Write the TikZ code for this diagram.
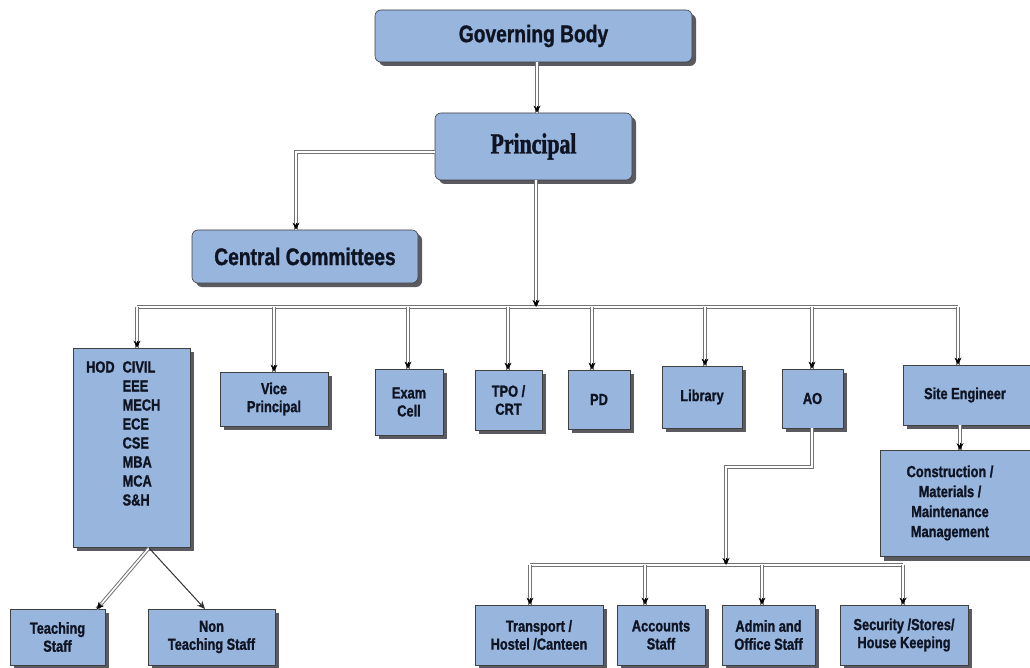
\documentclass[tikz,border=0pt]{standalone}
\usepackage{fontspec}
\newfontfamily\boxfont[FakeStretch=0.8, BoldFeatures={FakeBold=1.2}]{Liberation Sans}
\newfontfamily\serfont[FakeStretch=0.75, BoldFeatures={FakeBold=1.5}]{Liberation Serif}
\usetikzlibrary{arrows.meta,shadows}
\definecolor{boxblue}{RGB}{152,181,222}
\definecolor{shadowgray}{RGB}{90,90,96}
\definecolor{inktext}{RGB}{15,20,35}
\tikzset{
  box/.style={draw=black!75, line width=0.6pt, fill=boxblue, inner sep=2pt, text=inktext,
    general shadow={fill=shadowgray, shadow xshift=4pt, shadow yshift=-4pt},
    align=center, font=\boxfont\bfseries\fontsize{16}{18}\selectfont},
  topbox/.style={box, rounded corners=6pt, font=\boxfont\bfseries\fontsize{24}{26}\selectfont},
  conn/.style={draw=black!55, line width=1pt, double=white, double distance=1.6pt},
  tipst/.style={draw=black, line width=0.5pt, -{Stealth[length=7pt,width=7pt]}},
  single/.style={draw=black!80, line width=1pt, -{Stealth[length=8pt,width=7pt]}}
}
\begin{document}
\begin{tikzpicture}[x=1pt,y=-1pt]
\useasboundingbox (0,0) rectangle (1030,668);
% top level
\node[topbox, minimum width=317pt, minimum height=52pt] (gov) at (533.5,36) {Governing Body};
\node[topbox, minimum width=197pt, minimum height=67pt, font=\serfont\bfseries\fontsize{29}{31}\selectfont] (prin) at (533.5,146.5) {Principal};
\node[topbox, minimum width=226pt, minimum height=53pt] (cc) at (305,256.5) {Central Committees};
% second row
\node[box, minimum width=117pt, minimum height=199pt] (hod) at (131.5,447.5) {};
\node[anchor=north west, inner sep=0pt, align=left, text=inktext, font=\boxfont\bfseries\fontsize{16}{19}\selectfont] (hodtext) at (86,359)
  {\begin{tabular}{@{}l@{\hspace{8pt}}l@{}}HOD & CIVIL\\ & EEE\\ & MECH\\ & ECE\\ & CSE\\ & MBA\\ & MCA\\ & S\&H\end{tabular}};
\node[box, minimum width=108pt, minimum height=54pt] (vp) at (274,399) {Vice\\Principal};
\node[box, minimum width=68pt, minimum height=66pt] (exam) at (409,402) {Exam\\Cell};
\node[box, minimum width=67pt, minimum height=60pt] (tpo) at (508.5,400) {TPO /\\CRT};
\node[box, minimum width=62pt, minimum height=59pt] (pd) at (599,399.5) {PD};
\node[box, minimum width=80pt, minimum height=62pt] (lib) at (702,397) {Library};
\node[box, minimum width=61pt, minimum height=59pt] (ao) at (812.5,398.5) {AO};
\node[box, inner xsep=0pt, minimum height=60pt] (site) at (978,395)
  {\hbox to 124pt{\hss Site Engineer\hss}\hbox to 26pt{}};
\node[box, inner xsep=0pt, minimum height=106pt] (cons) at (960,503.5)
  {\hbox to 140pt{\hss\begin{tabular}{@{}c@{}}Construction /\\[2pt]Materials /\\[2pt]Maintenance\\[2pt]Management\end{tabular}\hss}\hbox to 20pt{}};
% bottom
\node[box, minimum width=95pt, minimum height=56pt] (teach) at (57.5,637) {Teaching\\Staff};
\node[box, minimum width=127pt, minimum height=56pt] (nonteach) at (211.5,637) {Non\\Teaching Staff};
\node[box, minimum width=128pt, minimum height=60pt] (trans) at (539,635) {Transport /\\Hostel /Canteen};
\node[box, minimum width=88pt, minimum height=60pt] (acc) at (661,635) {Accounts\\Staff};
\node[box, minimum width=93pt, minimum height=60pt] (adm) at (768.5,635) {Admin and\\Office Staff};
\node[box, minimum width=128pt, minimum height=60pt] (sec) at (904,635) {Security /Stores/\\House Keeping};
% connectors
\coordinate (busP) at (536,307);
\coordinate (busL) at (137,307);
\coordinate (busR) at (958,307);
\coordinate (ccturn) at (296,152);
\coordinate (govx) at (537,0);
\draw[conn] (gov.south -| govx) -- (prin.north -| govx);
\draw[tipst] (prin.north -| govx) ++(0,-7) -- ++(0,7);
\draw[conn] (prin.west |- ccturn) -- (ccturn) -- (ccturn |- cc.north);
\draw[tipst] (ccturn |- cc.north) ++(0,-7) -- ++(0,7);
\draw[conn] (prin.south -| busP) -- (busP);
\draw[conn] (busL) -- (busR);
\draw[tipst] (busP) ++(0,-7) -- ++(0,7);
\foreach \x/\n in {137/hod,274/vp,408/exam,508/tpo,592/pd,705/lib,812/ao,958/site}{
  \coordinate (b\n) at (\x,307);
  \draw[conn] (b\n) -- (b\n |- \n.north);
  \draw[tipst] (b\n |- \n.north) ++(0,-7) -- ++(0,7);
}
\coordinate (sdrop) at (960,427);
\draw[conn] (site.south -| sdrop) -- (sdrop |- cons.north);
\draw[tipst] (sdrop |- cons.north) ++(0,-7) -- ++(0,7);
% AO branch
\coordinate (aoturn1) at (812,467);
\coordinate (aoturn2) at (726,467);
\coordinate (bus2P) at (726,565);
\draw[conn] (ao.south -| aoturn1) -- (aoturn1) -- (aoturn2) -- (bus2P);
\coordinate (bus2L) at (530,565);
\coordinate (bus2R) at (903,565);
\draw[conn] (bus2L) -- (bus2R);
\draw[tipst] (bus2P) ++(0,-7) -- ++(0,7);
\foreach \x/\n in {530/trans,645/acc,762/adm,903/sec}{
  \coordinate (c\n) at (\x,565);
  \draw[conn] (c\n) -- (c\n |- \n.north);
  \draw[tipst] (c\n |- \n.north) ++(0,-7) -- ++(0,7);
}
% HOD branch
\coordinate (hodpt) at (149,548);
\coordinate (tchend) at (97,609);
\draw[conn] (hodpt) -- (tchend);
\draw[tipst] (tchend) ++(4.5,-5.3) -- ++(-4.5,5.3);
\draw[single] (hodpt) -- (205,609);
\end{tikzpicture}
\end{document}
